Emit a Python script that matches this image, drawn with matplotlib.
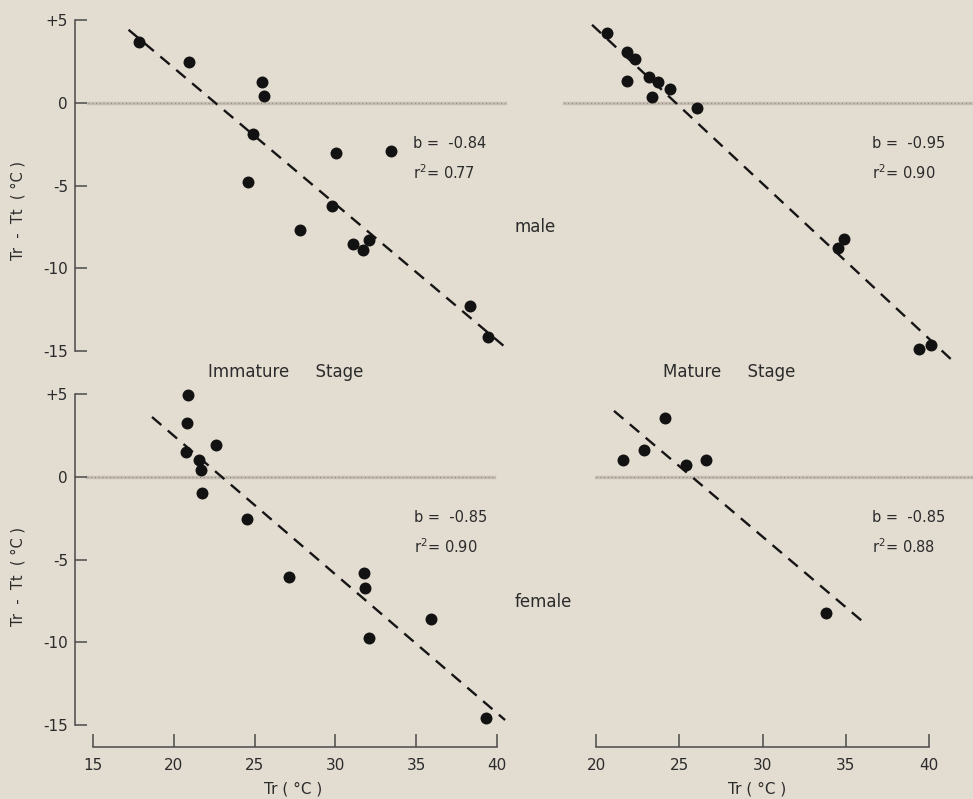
import matplotlib
matplotlib.use("Agg")
import matplotlib.pyplot as plt

# Tr (deg C) and Tr - Tt (deg C)
imm_male_x = [17.85, 20.94, 25.46, 25.58, 24.9, 24.6, 30.04, 33.44, 29.8, 27.8, 31.1, 31.7, 32.1, 38.33, 39.44]
imm_male_y = [3.69, 2.48, 1.27, 0.42, -1.87, -4.77, -3.02, -2.9, -6.22, -7.67, -8.52, -8.88, -8.28, -12.27, -14.14]
imm_male_fit_x = [17.2, 40.4]
imm_male_fit_y = [4.41, -14.68]

mat_male_x = [20.66, 21.86, 22.34, 21.86, 23.18, 23.72, 24.44, 23.36, 26.06, 34.88, 34.52, 39.38, 40.1]
mat_male_y = [4.23, 3.08, 2.66, 1.33, 1.57, 1.27, 0.85, 0.36, -0.30, -8.22, -8.76, -14.86, -14.62]
mat_male_fit_x = [19.76, 41.42]
mat_male_fit_y = [4.71, -15.59]

imm_female_x = [20.88, 20.82, 20.75, 22.6, 21.57, 21.7, 21.77, 24.55, 27.1, 31.77, 31.85, 32.1, 35.9, 39.3]
imm_female_y = [4.94, 3.25, 1.5, 1.93, 1.02, 0.42, -0.96, -2.53, -6.08, -5.84, -6.75, -9.76, -8.61, -14.58]
imm_female_fit_x = [18.65, 40.5]
imm_female_fit_y = [3.61, -14.7]

mat_female_x = [21.62, 22.88, 24.14, 25.4, 26.6, 33.8]
mat_female_y = [1.02, 1.63, 3.55, 0.72, 1.02, -8.25]
mat_female_fit_x = [21.08, 36.08]
mat_female_fit_y = [3.98, -8.8]

slopes = {"im": "-0.84", "mm": "-0.95", "if": "-0.85", "mf": "-0.85"}
r2 = {"im": "0.77", "mm": "0.90", "if": "0.90", "mf": "0.88"}

y_ticks = [5, 0, -5, -10, -15]
y_ticklabels = ["+5", "0", "-5", "-10", "-15"]
x_ticks_left = [15, 20, 25, 30, 35, 40]
x_ticks_right = [20, 25, 30, 35, 40]

W, H = 973, 799
BG = "#e3dcd1"
INK = "#2b2b2b"
AXC = "#4a4a4a"


def px_axes(fig, x0, x1, y0, y1):
    # pixel box -> figure fraction
    return fig.add_axes([x0 / W, 1 - y1 / H, (x1 - x0) / W, (y1 - y0) / H])


def fig_text(fig, x, y, s, **kw):
    fig.text(x / W, 1 - y / H, s, color=INK, **kw)


def panel(ax, xs, ys, fx, fy, xlim, zero_span, key, tx):
    ax.set_facecolor("none")
    ax.set_xlim(*xlim)
    ax.set_ylim(-15, 5)
    for s in ax.spines.values():
        s.set_visible(False)
    ax.set_xticks([])
    ax.set_yticks([])

    ax.plot(zero_span, [0, 0], color="#c6beb2", lw=2.4, clip_on=False, zorder=1)
    ax.plot(zero_span, [0, 0], color="#8e887f", lw=0.9, ls=(0, (0.8, 2.2)),
            clip_on=False, zorder=1)
    ax.plot(fx, fy, color="#151515", lw=1.7, ls=(0, (5.2, 3.6)), clip_on=False, zorder=2)
    ax.plot(xs, ys, "o", color="#121212", ms=8.6, mec="none", clip_on=False, zorder=3)

    ax.text(tx, -2.48, "b =  " + slopes[key], fontsize=10.5, color=INK, va="center")
    ax.text(tx, -4.23, "r$^2$= " + r2[key], fontsize=10.5, color=INK, va="center")


def left_axis(ax):
    ax.spines["left"].set_visible(True)
    ax.spines["left"].set_position(("outward", 13))
    ax.spines["left"].set_color(AXC)
    ax.spines["left"].set_linewidth(1.1)
    ax.set_yticks(y_ticks)
    ax.set_yticklabels(y_ticklabels)
    ax.tick_params(axis="y", direction="in", length=8.6, width=1.1, color=AXC,
                   pad=5, labelsize=11, labelcolor=INK)


def bottom_axis(ax, ticks):
    ax.spines["bottom"].set_visible(True)
    ax.spines["bottom"].set_position(("outward", 16))
    ax.spines["bottom"].set_color(AXC)
    ax.spines["bottom"].set_linewidth(1.1)
    ax.set_xticks(ticks)
    ax.set_xticklabels([str(t) for t in ticks])
    ax.tick_params(axis="x", direction="in", length=9.4, width=1.1, color=AXC,
                   pad=8, labelsize=11, labelcolor=INK)


def main():
    plt.rcParams["font.family"] = ["DejaVu Sans"]
    plt.rcParams["mathtext.default"] = "regular"

    fig = plt.figure(figsize=(W / 100, H / 100), dpi=100, facecolor=BG)

    ax_im = px_axes(fig, 93, 497, 20, 351)
    ax_mm = px_axes(fig, 596, 929, 20, 351)
    ax_if = px_axes(fig, 93, 497, 394, 725)
    ax_mf = px_axes(fig, 596, 929, 394, 725)

    panel(ax_im, imm_male_x, imm_male_y, imm_male_fit_x, imm_male_fit_y,
          (15, 40), [14.7, 40.5], "im", 34.8)
    panel(ax_mm, mat_male_x, mat_male_y, mat_male_fit_x, mat_male_fit_y,
          (20, 40), [18.1, 42.6], "mm", 36.56)
    panel(ax_if, imm_female_x, imm_female_y, imm_female_fit_x, imm_female_fit_y,
          (15, 40), [14.6, 39.8], "if", 34.86)
    panel(ax_mf, mat_female_x, mat_female_y, mat_female_fit_x, mat_female_fit_y,
          (20, 40), [20.0, 42.6], "mf", 36.56)

    left_axis(ax_im)
    left_axis(ax_if)
    bottom_axis(ax_if, x_ticks_left)
    bottom_axis(ax_mf, x_ticks_right)

    fig_text(fig, 18, 210, "Tr  -  Tt  ( °C )", fontsize=10.5, rotation=90,
             ha="center", va="center")
    fig_text(fig, 18, 577, "Tr  -  Tt  ( °C )", fontsize=10.5, rotation=90,
             ha="center", va="center")
    fig_text(fig, 293, 789, "Tr ( °C )", fontsize=11, ha="center", va="center")
    fig_text(fig, 757, 789, "Tr ( °C )", fontsize=11, ha="center", va="center")

    fig_text(fig, 515, 227, "male", fontsize=12, va="center")
    fig_text(fig, 515, 602, "female", fontsize=12, va="center")
    fig_text(fig, 286, 372, "Immature     Stage", fontsize=12, ha="center", va="center")
    fig_text(fig, 729, 372, "Mature     Stage", fontsize=12, ha="center", va="center")

    fig.savefig("out.png", dpi=100, facecolor=BG)


if __name__ == "__main__":
    main()
